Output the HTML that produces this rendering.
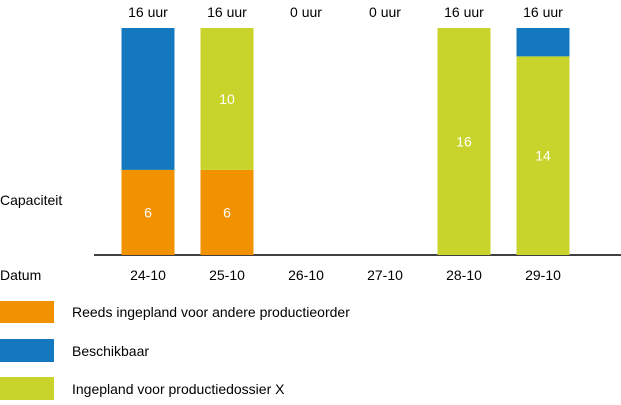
<!DOCTYPE html>
<html><head><meta charset="utf-8"><style>
body{margin:0;background:#fff;width:621px;height:400px;overflow:hidden;font-family:"Liberation Sans",Arial,sans-serif}
svg text{font-family:"Liberation Sans",Arial,sans-serif}
</style></head><body>
<svg id="chart" width="621" height="400" xmlns="http://www.w3.org/2000/svg">
<text x="0" y="205" font-size="14" fill="#000">Capaciteit</text>
<text x="0" y="280" font-size="14" fill="#000">Datum</text>
<line x1="94" y1="255" x2="621" y2="255" stroke="#000" stroke-width="1.5"/>
<g>
<rect x="0" y="301" width="54" height="22" fill="#F39200"/>
<text x="72" y="317" font-size="14">Reeds ingepland voor andere productieorder</text>
<rect x="0" y="339" width="54" height="23" fill="#1378BE"/>
<text x="72" y="356" font-size="14">Beschikbaar</text>
<rect x="0" y="377" width="54" height="23" fill="#C8D42C"/>
<text x="72" y="394" font-size="14">Ingepland voor productiedossier X</text>
</g>
<g id="bars"></g>
</svg>
<script>
const categories = ["24-10","25-10","26-10","27-10","28-10","29-10"];
const reeds = [6,6,0,0,0,0];
const ingepland = [0,10,0,0,16,14];
const beschikbaar = [10,0,0,0,0,2];
const totals = ["16 uur","16 uur","0 uur","0 uur","16 uur","16 uur"];

const baseY = 255, unitPx = 227/16, x0 = 148, step = 79, barW = 53;
const xC = i => x0 + i*step;
const yS = v => v*unitPx;
const NS = "http://www.w3.org/2000/svg";
const g = document.getElementById("bars");
function mk(tag, attrs){const e=document.createElementNS(NS,tag);for(const k in attrs)e.setAttribute(k,attrs[k]);g.appendChild(e);return e;}
const series = [
  {vals:reeds, color:"#F39200", name:"reeds"},
  {vals:ingepland, color:"#C8D42C", name:"ingepland"},
  {vals:beschikbaar, color:"#1378BE", name:"beschikbaar"}
];
categories.forEach((c,i)=>{
  let y = baseY;
  series.forEach(s=>{
    const v = s.vals[i];
    if(v<=0) return;
    const h = yS(v);
    y -= h;
    const r = mk("rect",{x:xC(i)-barW/2,y:y,width:barW,height:h,fill:s.color});
    
    
    if(s.name!=="beschikbaar"){
      const t = mk("text",{x:xC(i),y:y+h/2+5,"text-anchor":"middle","font-size":"14",fill:"#fff"});
      t.textContent = v;
      
      
    }
  });
  const lbl = mk("text",{x:xC(i),y:280,"text-anchor":"middle","font-size":"14",fill:"#000"});
  lbl.textContent = c;
  
  
  const tt = mk("text",{x:xC(i),y:17,"text-anchor":"middle","font-size":"14",fill:"#000"});
  tt.textContent = totals[i];
  
  
});
</script>
</body></html>
